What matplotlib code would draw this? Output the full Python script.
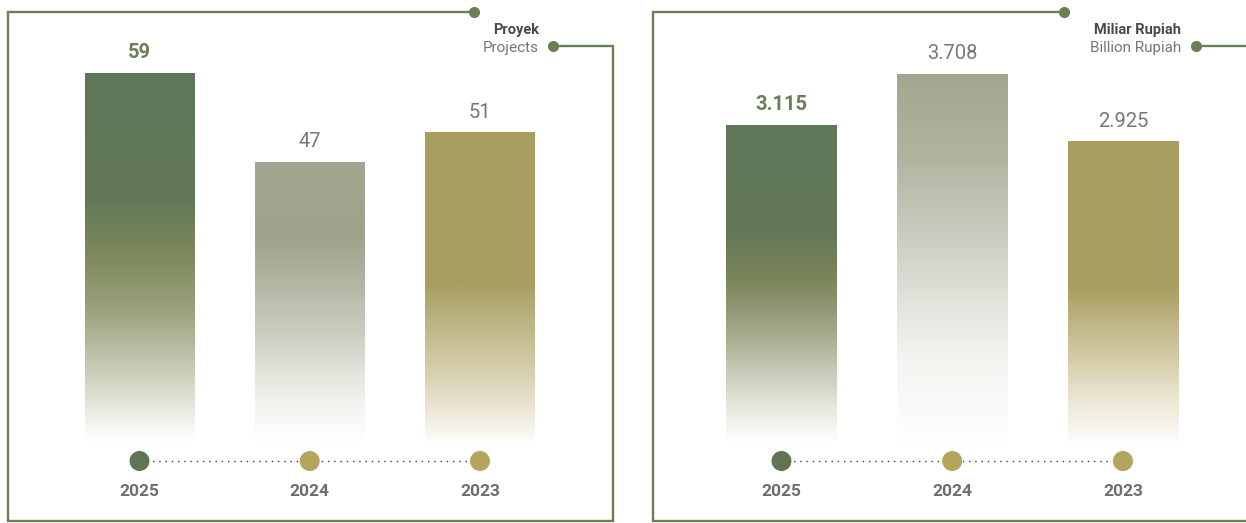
import numpy as np
import matplotlib
matplotlib.use("Agg")
import matplotlib.pyplot as plt
from matplotlib import transforms
from matplotlib.colors import to_rgb

plt.rcParams["font.family"] = ["Roboto", "DejaVu Sans"]

# ---- data ----
years = ["2025", "2024", "2023"]
projects = [59, 47, 51]
project_labels = ["59", "47", "51"]
value_bn = [3.115, 3.708, 2.925]
value_labels = ["3.115", "3.708", "2.925"]

# ---- styling ----
W, H = 1246, 523
GREEN = "#6b7f55"
GREY_TXT = "#777777"
YEAR_TXT = "#6e6e6e"
DOT_COLORS = ["#607453", "#b3a65c", "#b3a65c"]

# gradient stops per bar: (fraction from top, colour)
GRAD_LEFT = [
    [(0.0, "#5f7658"), (0.35, "#627858"), (0.50, "#7f8a5d"), (0.645, "#9aa27e"),
     (0.83, "#d0d2c0"), (0.96, "#f5f5f0"), (1.0, "#fefefd")],
    [(0.0, "#a3a690"), (0.28, "#a0a38c"), (0.47, "#b8baa9"), (0.63, "#cdcfc3"),
     (0.77, "#e6e6df"), (0.89, "#f5f5f2"), (1.0, "#fefefe")],
    [(0.0, "#a89e60"), (0.49, "#a89e5f"), (0.57, "#b5ad76"), (0.66, "#c4bb8e"),
     (0.79, "#d9d2b3"), (0.90, "#ece7d6"), (1.0, "#fdfcf9")],
]
GRAD_RIGHT = [
    [(0.0, "#5f7658"), (0.34, "#627858"), (0.49, "#7b855a"), (0.59, "#919a76"),
     (0.69, "#aeb396"), (0.80, "#cdcebe"), (0.90, "#e8e8e0"), (1.0, "#fefefd")],
    [(0.0, "#a3a68f"), (0.23, "#b2b4a0"), (0.37, "#c3c4b6"), (0.51, "#d3d4ca"),
     (0.64, "#e5e5df"), (0.78, "#f4f4f1"), (1.0, "#fefefe")],
    [(0.0, "#a89e60"), (0.49, "#a89e5f"), (0.61, "#c0b688"), (0.73, "#d4cca9"),
     (0.84, "#e8e2cd"), (1.0, "#fdfcf9")],
]

fig = plt.figure(figsize=(W / 100, H / 100), dpi=100)
fig.patch.set_facecolor("white")

# overlay in pixel coordinates for frames and captions
ov = fig.add_axes([0, 0, 1, 1])
ov.set_xlim(0, W)
ov.set_ylim(H, 0)
ov.axis("off")


def polyline(pts):
    xs, ys = zip(*pts)
    ov.plot(xs, ys, color=GREEN, lw=1.7, solid_joinstyle="miter", solid_capstyle="butt")


def end_dot(x, y):
    ov.plot(x, y, "o", color=GREEN, ms=8, mec="none")


# left panel frame
polyline([(474, 12), (8, 12), (8, 521), (613, 521), (613, 46), (553, 46)])
end_dot(474, 12)
end_dot(553, 46)
# right panel frame
polyline([(1064, 12), (653, 12), (653, 521), (W + 5, 521)])
polyline([(1196, 46), (W + 5, 46)])
end_dot(1064, 12)
end_dot(1196, 46)

# unit captions
ov.text(539, 30, "Proyek", ha="right", va="center", fontsize=10.5, fontweight="bold", color="#4a4a4a")
ov.text(539, 48, "Projects", ha="right", va="center", fontsize=11, color=GREY_TXT)
ov.text(1181, 30, "Miliar Rupiah", ha="right", va="center", fontsize=10.5, fontweight="bold", color="#4a4a4a")
ov.text(1181, 48, "Billion Rupiah", ha="right", va="center", fontsize=11, color=GREY_TXT)


def gradient_img(stops, n=400):
    f = np.linspace(0, 1, n)
    pos = [s[0] for s in stops]
    cols = np.array([to_rgb(s[1]) for s in stops])
    img = np.zeros((n, 1, 3))
    for c in range(3):
        img[:, 0, c] = np.interp(f, pos, cols[:, c])
    return img


def panel(px_left, px_right, floor, ceil, values, labels, grads):
    # axes spans pixel rows 30..441
    top_px, bot_px = 30, 441
    ax = fig.add_axes([px_left / W, (H - bot_px) / H, (px_right - px_left) / W, (bot_px - top_px) / H])
    ax.patch.set_alpha(0)
    ax.axis("off")
    x = np.arange(len(values))
    width = 0.645
    bars = ax.bar(x, np.array(values) - floor, bottom=floor, width=width,
                  facecolor="none", edgecolor="none")
    for i, (b, v) in enumerate(zip(bars, values)):
        im = ax.imshow(gradient_img(grads[i]), extent=(x[i] - width / 2, x[i] + width / 2, floor, v),
                       origin="upper", aspect="auto", interpolation="bilinear", zorder=1)
        im.set_clip_path(b)
        bold = i == 0
        ax.annotate(labels[i], (x[i], v), xytext=(0, 14.5), textcoords="offset points",
                    ha="center", va="center", fontsize=14.5,
                    fontweight="bold" if bold else "normal",
                    color=GREEN if bold else GREY_TXT)
    ax.set_xlim(-0.5, len(values) - 0.5)
    ax.set_ylim(floor, ceil)

    # year timeline below the bars
    trans = transforms.blended_transform_factory(ax.transData, ov.transData)
    ax.plot(x, [461] * len(x), transform=trans, clip_on=False, color="#3a3a3a",
            lw=1.0, linestyle=(0, (1, 3.5)), zorder=2)
    ax.scatter(x, [461] * len(x), s=225, c=DOT_COLORS, transform=trans, clip_on=False,
               zorder=3, edgecolors="white", linewidths=0.6)
    for i, yr in enumerate(years):
        ax.text(x[i], 491, yr, transform=trans, ha="center", va="center", fontsize=12.5,
                fontweight="bold", color=YEAR_TXT, clip_on=False)
    return ax


panel(54.4, 565.1, 9.33, 64.8, projects, project_labels, GRAD_LEFT)
panel(696.1, 1208.3, -0.557, 4.216, value_bn, value_labels, GRAD_RIGHT)

fig.savefig("out.png", dpi=100, facecolor="white")
